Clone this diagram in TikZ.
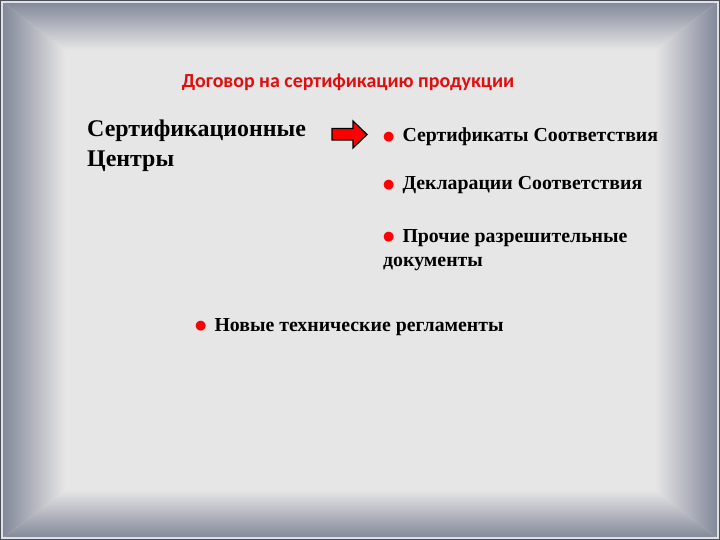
\documentclass[tikz,border=0pt]{standalone}
\usepackage{fontspec}
\setmainfont{Liberation Serif}
\newfontfamily\titlefont{Carlito}
\newfontfamily\dotfont{DejaVu Sans}
\usetikzlibrary{positioning}

\definecolor{frameedge}{RGB}{126,132,150}
\definecolor{framemid}{RGB}{230,230,230}
\definecolor{titlered}{RGB}{224,14,14}

\newcommand{\reddot}{\raisebox{1.5bp}{\dotfont\fontsize{13}{13}\selectfont\textcolor{red}{●}}\hspace{8bp}}

\tikzset{
	bigtext/.style={anchor=north west, inner sep=0pt, align=left, font=\bfseries\fontsize{24}{30}\selectfont},
	item/.style={anchor=base west, inner sep=0pt, align=left, font=\bfseries\fontsize{19.9}{25}\selectfont},
	blockarrow/.style={fill=red, draw=black, line width=1.2bp, line join=miter}
}

\begin{document}
\begin{tikzpicture}[x=1bp, y=-1bp]
	\useasboundingbox (0,0) rectangle (720,540);

	% frame
	\fill [framemid] (0,0) rectangle (720,540);
	\shade [top color=frameedge, bottom color=framemid] (0,0) -- (720,0) -- (655,50) -- (65,50) -- cycle;
	\shade [top color=framemid, bottom color=frameedge] (0,540) -- (720,540) -- (655,490) -- (65,490) -- cycle;
	\shade [left color=frameedge, right color=framemid] (0,0) -- (65,50) -- (65,490) -- (0,540) -- cycle;
	\shade [left color=framemid, right color=frameedge] (720,0) -- (655,50) -- (655,490) -- (720,540) -- cycle;
	\draw [frameedge!60!black, line width=1bp] (0.5,0.5) rectangle (719.5,539.5);
	\draw [white!75!frameedge, line width=1.2bp] (2,2) rectangle (718,538);

	\coordinate (T) at (348,88);
	\coordinate (L) at (87,120);
	\coordinate (R1) at (383,142);
	\coordinate (R2) at (383,190);
	\coordinate (R3) at (383,267);
	\coordinate (N) at (195,331);

	\node [anchor=base, inner sep=0pt, text=titlered, font=\titlefont\bfseries\fontsize{20}{24}\selectfont] (contract) at (T) {Договор на сертификацию продукции};
	\node [bigtext] (centers) at (L) {Сертификационные\\Центры};

	\draw [blockarrow] (332,128.5) -- (353,128.5) -- (353,121) -- (367,134.5) -- (353,148) -- (353,140) -- (332,140) -- cycle;

	\node [item] (certs) at (R1) {\reddot Сертификаты Соответствия};
	\node [item] (decls) at (R2) {\reddot Декларации Соответствия};
	% base of a two-line node is its last line
	\node [item] (other) at (R3) {\reddot Прочие разрешительные\\документы};
	\node [item] (regs) at (N) {\reddot Новые технические регламенты};
\end{tikzpicture}
\end{document}
